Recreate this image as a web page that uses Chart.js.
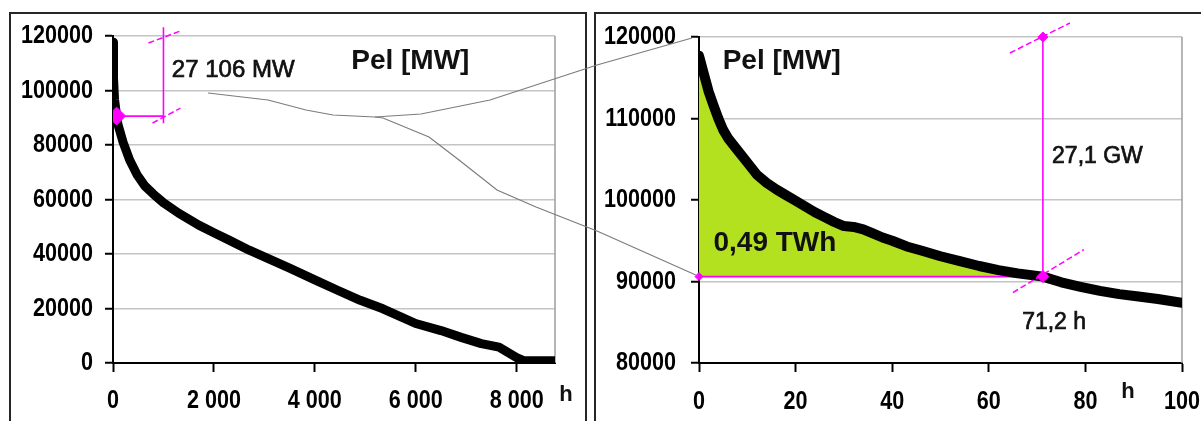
<!DOCTYPE html>
<html>
<head>
<meta charset="utf-8">
<script src="https://cdn.jsdelivr.net/npm/chart.js@4.4.1/dist/chart.umd.min.js"></script>
<style>
  html, body { margin: 0; padding: 0; background: #fff; }
  #wrap { position: relative; width: 1201px; height: 421px; overflow: hidden; }
  .frame { position: absolute; top: 12px; height: 440px; border: 2px solid #262626; box-sizing: border-box; }
  #frameL { left: 9px; width: 578px; }
  #frameR { left: 594px; width: 640px; }
  canvas { position: absolute; top: 0; }
  #cL { left: 0; }
  #cR { left: 597px; }
  #links { left: 0; z-index: 3; pointer-events: none; }
</style>
</head>
<body>
<div id="wrap">
  <div class="frame" id="frameL"></div>
  <div class="frame" id="frameR"></div>
  <canvas id="cL" width="590" height="421"></canvas>
  <canvas id="cR" width="604" height="421"></canvas>
  <canvas id="links" width="1201" height="421"></canvas>
</div>
<script>
// Jahresdauerlinie der elektrischen Last (Stunden, MW)
const hoursYear = [0, 10, 30, 71.2, 100, 200, 330, 480, 630, 800, 1000, 1300, 1700, 2000, 2300, 2700,
  3100, 3500, 4000, 4450, 4900, 5350, 6000, 6500, 6900, 7300, 7650, 8000, 8150, 8400, 8760];
const loadYear = [117706, 104600, 96800, 90600, 87400, 81000, 74500, 69000, 65000, 62000, 58800, 55000, 50600, 47800, 45100, 41400,
  38100, 34800, 30500, 26700, 23000, 19900, 14500, 11900, 9400, 7100, 5800, 2000, 800, 800, 800];

// die ersten 100 Stunden der Dauerlinie
const hoursPeak = [0, 1, 2, 3, 4, 5, 6, 8, 10, 12, 14, 16, 18, 20, 22, 24, 26, 28, 30, 32, 34, 36, 38, 40,
  43, 46, 50, 54, 58, 62, 66, 71.2, 75, 79, 83, 87, 91, 95, 100];
const loadPeak = [117706, 115500, 113300, 111600, 110000, 108600, 107600, 106100, 104600, 103100, 102100, 101300,
  100600, 99900, 99200, 98500, 97900, 97300, 96800, 96700, 96400, 95900, 95400, 95000,
  94300, 93800, 93100, 92500, 91900, 91400, 91000, 90600, 89900, 89350, 88850, 88450, 88150, 87850, 87400];

// Achsenteilung
const yearTicksX = [0, 2000, 4000, 6000, 8000];
const yearTicksY = [0, 20000, 40000, 60000, 80000, 100000, 120000];
const peakTicksX = [0, 20, 40, 60, 80, 100];
const peakTicksY = [80000, 90000, 100000, 110000, 120000];

// Spitzenlast oberhalb der Schwelle
const thresholdMW = 90600;   // Schwelle
const spanMW = 27106;        // Spitze minus Schwelle
const overHours = 71.2;      // Stunden oberhalb der Schwelle
const energyLabel = '0,49 TWh';
const dimHourYear = 1000;    // Lage der Bemaßung links

const magenta = '#ff00ff';
const green = '#b4e11f';
const font = "'Liberation Sans', Arial, sans-serif";

function pts(xs, ys) { return xs.map((x, i) => ({ x: x, y: ys[i] })); }

// Rahmen rechts, Bemaßungsstriche, Beschriftungen, schmale Achsenzahlen
const decor = {
  id: 'decor',
  beforeDatasetsDraw(chart) {
    const { ctx, chartArea: a } = chart;
    ctx.save();
    ctx.strokeStyle = '#9c9c9c';
    ctx.lineWidth = 1.5;
    ctx.beginPath();
    ctx.moveTo(a.right, a.top);
    ctx.lineTo(a.right, a.bottom);
    ctx.stroke();
    ctx.restore();
  },
  afterDatasetsDraw(chart, args, o) {
    const { ctx, scales: { x, y }, chartArea: a } = chart;
    ctx.save();
    ctx.strokeStyle = magenta;
    ctx.lineWidth = 1.5;
    ctx.setLineDash([6, 3]);
    (o.slashes || []).forEach(s => {
      const px = x.getPixelForValue(s.x), py = y.getPixelForValue(s.y);
      ctx.beginPath();
      ctx.moveTo(px + s.from[0], py + s.from[1]);
      ctx.lineTo(px + s.to[0], py + s.to[1]);
      ctx.stroke();
    });
    ctx.setLineDash([]);
    ctx.textBaseline = 'middle';
    ctx.fillStyle = '#111';
    ctx.strokeStyle = '#111';
    ctx.lineWidth = 0.7;
    (o.texts || []).forEach(t => {
      ctx.font = t.font;
      ctx.textAlign = 'left';
      const px = x.getPixelForValue(t.x), py = y.getPixelForValue(t.y);
      ctx.fillText(t.text, px, py);
      if (t.heavy) ctx.strokeText(t.text, px, py);
    });
    ctx.font = 'bold 22px ' + font;
    ctx.textAlign = 'center';
    ctx.fillText('h', a.right + o.unit[0], a.bottom + o.unit[1]);
    ctx.restore();
  },
  afterDraw(chart, args, o) {
    // Achsenzahlen schmal gesetzt, Lage aus den Skalen
    const { ctx, scales: { x, y }, chartArea: a } = chart;
    ctx.save();
    ctx.fillStyle = '#000';
    ctx.font = 'bold 26px ' + font;
    ctx.textBaseline = 'middle';
    const put = (text, px, py, align) => {
      ctx.save();
      ctx.translate(px, py);
      ctx.scale(0.83, 1);
      ctx.textAlign = align;
      ctx.fillText(text, 0, 0);
      ctx.restore();
    };
    x.ticks.forEach(t => put(t.label, x.getPixelForValue(t.value), a.bottom + o.xGap, 'center'));
    y.ticks.forEach(t => put(t.label, a.left - o.yGap, y.getPixelForValue(t.value), 'right'));
    ctx.restore();
  }
};

function axes(xMin, xMax, xTicks, xFmt, yMin, yMax, yTicks, yWidth) {
  return {
    x: {
      type: 'linear', min: xMin, max: xMax,
      afterBuildTicks: s => { s.ticks = xTicks.map(v => ({ value: v })); },
      afterFit: s => { s.height = 58; },
      ticks: { callback: xFmt, display: false, autoSkip: false },
      grid: { drawOnChartArea: false, tickLength: 9, tickColor: '#000', tickWidth: 2 },
      border: { color: '#000', width: 2 }
    },
    y: {
      type: 'linear', min: yMin, max: yMax,
      afterBuildTicks: s => { s.ticks = yTicks.map(v => ({ value: v })); },
      afterFit: s => { s.width = yWidth; },
      ticks: { callback: v => String(v), display: false, autoSkip: false },
      grid: { color: '#c4c4c4', lineWidth: 1.5, tickLength: 8, tickColor: '#000', tickWidth: 2 },
      border: { color: '#000', width: 2 }
    }
  };
}

const base = {
  responsive: false,
  animation: false,
  events: [],
  elements: { line: { tension: 0 } }
};

// linkes Diagramm: ganzes Jahr
new Chart(document.getElementById('cL'), {
  type: 'line',
  data: {
    datasets: [
      { data: pts(hoursYear, loadYear), borderColor: '#000', borderWidth: 9, pointRadius: 0,
        borderCapStyle: 'round', borderJoinStyle: 'round', order: 3 },
      { data: [{ x: overHours, y: thresholdMW }, { x: dimHourYear, y: thresholdMW }],
        borderColor: magenta, borderWidth: 1.6, pointRadius: 0, order: 2 },
      { data: [{ x: dimHourYear, y: 88000 }, { x: dimHourYear, y: 123200 }],
        borderColor: magenta, borderWidth: 1.6, pointRadius: 0, clip: false, order: 2 },
      { data: [{ x: overHours, y: thresholdMW }], showLine: false, pointStyle: 'rectRot',
        pointRadius: 9, backgroundColor: magenta, borderColor: magenta, order: 1 }
    ]
  },
  options: Object.assign({}, base, {
    layout: { padding: { top: 36, right: 35, left: 0, bottom: 0 } },
    plugins: {
      legend: { display: false }, tooltip: { enabled: false },
      decor: {
        unit: [11, 32],
        xGap: 38,
        yGap: 20,
        slashes: [
          { x: dimHourYear, y: 120000, from: [-15, 7], to: [17, -5] },
          { x: dimHourYear, y: thresholdMW, from: [-11, 7], to: [17, -8] }
        ],
        texts: [
          { text: (spanMW / 1000).toFixed(3).replace('.', ' ') + ' MW', x: 1166, y: 107400, font: '24px ' + font, heavy: true },
          { text: 'Pel [MW]', x: 4721, y: 110700, font: 'bold 28px ' + font }
        ]
      }
    },
    scales: axes(0, 8760, yearTicksX, v => v === 0 ? '0' : (v / 1000) + ' 000',
      0, 120000, yearTicksY, 113)
  }),
  plugins: [decor]
});

// rechtes Diagramm: die ersten 100 Stunden
const overPts = pts(hoursPeak, loadPeak).filter(p => p.x <= overHours);
new Chart(document.getElementById('cR'), {
  type: 'line',
  data: {
    datasets: [
      { data: pts(hoursPeak, loadPeak), borderColor: '#000', borderWidth: 10, pointRadius: 0,
        borderCapStyle: 'round', borderJoinStyle: 'round', order: 2 },
      { data: overPts, borderWidth: 0, borderColor: green, backgroundColor: green,
        fill: { value: thresholdMW }, pointRadius: 0, order: 4 },
      { data: [{ x: 0, y: thresholdMW }, { x: overHours, y: thresholdMW }],
        borderColor: magenta, borderWidth: 1.8, pointRadius: 0, order: 3 },
      { data: [{ x: overHours, y: thresholdMW }, { x: overHours, y: 120000 }],
        borderColor: magenta, borderWidth: 1.6, pointRadius: 0, order: 1 },
      { data: [{ x: 0, y: thresholdMW }, { x: overHours, y: thresholdMW }, { x: overHours, y: 120000 }],
        showLine: false, pointStyle: 'rectRot', pointRadius: [4, 6, 5],
        backgroundColor: magenta, borderColor: magenta, clip: false, order: 0 }
    ]
  },
  options: Object.assign({}, base, {
    layout: { padding: { top: 37, right: 19, left: 0, bottom: 0 } },
    plugins: {
      legend: { display: false }, tooltip: { enabled: false },
      decor: {
        unit: [-54, 29],
        xGap: 39,
        yGap: 23,
        slashes: [
          { x: overHours, y: 120000, from: [-33, 16], to: [27, -14] },
          { x: overHours, y: thresholdMW, from: [-30, 16], to: [41, -27] }
        ],
        texts: [
          { text: 'Pel [MW]', x: 4.9, y: 117030, font: 'bold 28px ' + font },
          { text: energyLabel, x: 3.0, y: 94640, font: 'bold 28px ' + font },
          { text: (spanMW / 1000).toFixed(1).replace('.', ',') + ' GW', x: 73.1, y: 105280, font: '23px ' + font, heavy: true },
          { text: String(overHours).replace('.', ',') + ' h', x: 66.9, y: 84960, font: '23px ' + font, heavy: true }
        ]
      }
    },
    scales: axes(0, 100, peakTicksX, v => String(v),
      80000, 120000, peakTicksY, 102)
  }),
  plugins: [decor]
});

// Verbindungslinien vom Ausschnitt zur Vergrößerung
const links = [
  [[208, 93], [268, 100], [306, 110], [333, 115], [375, 117], [383, 118], [429, 137], [459, 160],
   [497, 190], [536, 207], [597, 231], [698, 276]],
  [[375, 117], [421, 114], [490, 100], [597, 65], [692, 38]]
];
const lc = document.getElementById('links').getContext('2d');
lc.strokeStyle = '#7c7c7c';
lc.lineWidth = 1.2;
links.forEach(path => {
  lc.beginPath();
  path.forEach(([px, py], i) => i ? lc.lineTo(px, py) : lc.moveTo(px, py));
  lc.stroke();
});
</script>
</body>
</html>
